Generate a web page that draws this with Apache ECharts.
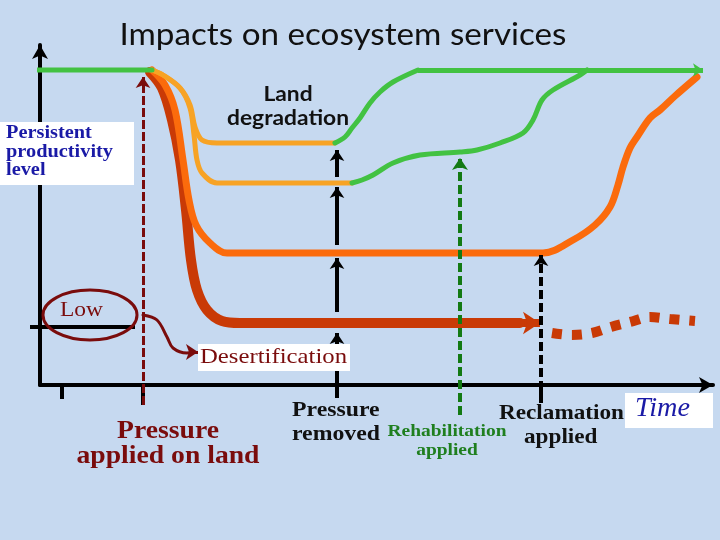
<!DOCTYPE html>
<html><head><meta charset="utf-8">
<script src="https://cdn.jsdelivr.net/npm/echarts@6/dist/echarts.min.js"></script>
<style>html,body{margin:0;padding:0;background:#C6D9F0}#c{width:720px;height:540px}</style>
</head><body><div id="c"></div>
<script>
// Conceptual units: x = time (0..673), y = ecosystem service level (0..340)
const greenStart    = [[-7,315],[112,315]];
const greenFull     = [[378,315],[663,315]];
const lightOrange1  = [[112,315],[123,310],[140,297],[150,280],[155,258],[162,245],[177,242],[295,242]];
const lightOrange2  = [[112,315],[123,310],[140,297],[150,277],[154,250],[157,225],[162,212],[177,202],[312,202]];
const orangeLine    = [[112,315],[125,300],[135,275],[143,225],[149,185],[156,160],[170,142],[187,132],[503,132],
                       [533,145],[555,160],[570,178],[578,200],[583,218],[590,237],[597,248],[610,267],[620,275],[635,289],[657,308]];
const desertLine    = [[110,313],[122,297],[132,265],[140,225],[146,175],[151,125],[157,95],[167,75],[182,64],[200,62],[480,62]];
const desertArrow   = [[470,62],[500,62]];
const desertDotted  = [[512,52],[532,50],[552,52],[571,58],[590,63],[610,68],[630,66],[655,64]];
const greenRecov1   = [[295,242],[305,248],[312,257],[320,267],[330,282],[340,293],[353,303],[378,315]];
const greenRecov2   = [[312,202],[322,205],[333,210],[353,222],[380,230],[420,233],[437,235],[460,242],[483,252],[493,265],[502,285],[513,295],[540,310],[547,315]];
const pressureApplied   = [[103,-20],[103,308]];
const pressureRemoved   = [[[297,0],[297,52]],[[297,73],[297,127]],[[297,140],[297,198]],[[297,208],[297,235]]];
const rehabArrow        = [[420,-30],[420,227]];
const reclamArrow       = [[501,-18],[501,130]];
const xTicks            = [[[22,0],[22,-14]],[[103,0],[103,-20]],[[297,0],[297,-13]],[[501,0],[501,-18]]];
const lowTick           = [[-10,58],[95,58]];
const lowEllipse        = [[50,70]];
const lowRadii          = [47,25];
const wiggle            = [[103,70],[117,65],[127,48],[133,37],[147,32],[152,33]];
const wiggleArrow       = [[150,33],[158,33]];

const C = {
  green:'#42C242', lightOrange:'#F7A325', orange:'#FB6B0C', desert:'#C93A06',
  darkRed:'#7A0C0C', darkGreen:'#137A13', blue:'#1A1AA6'
};

function line(data, color, width, z, extra){
  return Object.assign({type:'line', data, symbol:'none', smooth:0.35, clip:false, z:z||3,
    lineStyle:{color, width, cap:'round', join:'round'}, silent:true, animation:false}, extra||{});
}
function arrows(segs, color, width, dash, size, z, noArrow){
  return {type:'lines', coordinateSystem:'cartesian2d', clip:false, z:z||4, animation:false, silent:true,
    symbol: noArrow ? ['none','none'] : ['none','arrow'], symbolSize: size||10,
    lineStyle:{color, width, type: dash||'solid', opacity:1, cap:'butt'},
    data: segs.map(s=>({coords:s}))};
}

const series = [
  arrows(xTicks, '#000', 4, 'solid', 0, 2, true),
  arrows([lowTick], '#000', 4, 'solid', 0, 2, true),
  line(desertLine, C.desert, 10, 3),
  arrows([desertArrow], C.desert, 8, 'solid', 17, 3),
  line(desertDotted, C.desert, 10, 3, {lineStyle:{color:C.desert, width:10, type:[10,10], cap:'butt'}}),
  line(orangeLine, C.orange, 7, 4),
  line(lightOrange2, C.lightOrange, 5, 5),
  line(lightOrange1, C.lightOrange, 5, 5),
  line(greenRecov1, C.green, 5, 6),
  line(greenRecov2, C.green, 5, 6),
  line(greenStart, C.green, 5, 7, {smooth:false}),
  arrows([greenFull], C.green, 5, 'solid', 10, 7),
  arrows([pressureApplied], C.darkRed, 3, [9,3], 11, 8),
  arrows(pressureRemoved, '#000', 4, 'solid', 11, 8),
  arrows([rehabArrow], C.darkGreen, 4, [9,4], 12, 8),
  arrows([reclamArrow], '#000', 4, [9,4], 11, 8),
  line(wiggle, C.darkRed, 3, 9),
  arrows([wiggleArrow], C.darkRed, 3, 'solid', 12, 9),
  {type:'custom', coordinateSystem:'cartesian2d', data: lowEllipse, z:9, clip:false, silent:true, animation:false,
   renderItem:function(params, api){
     const c = api.coord([api.value(0), api.value(1)]);
     const s = api.size(lowRadii);
     return {type:'ellipse', shape:{cx:c[0], cy:c[1], rx:s[0], ry:s[1]},
       style:{fill:'none', stroke:C.darkRed, lineWidth:3}};
   }}
];

const mctx = document.createElement('canvas').getContext('2d');
function fit(font, text, target){ mctx.font = font; return target / mctx.measureText(text).width; }
function txt(text, x, y, font, fill, align, sx){
  return {type:'text', z:100, x, y, scaleX: sx||1, scaleY:1,
    style:{text, x:0, y:0, font, fill, align:align||'left', verticalAlign:'middle'}};
}
function box(x, y, w, h){
  return {type:'rect', z:99, shape:{x, y, width:w, height:h}, style:{fill:'#fff'}};
}
const serif = '"Liberation Serif", serif';
const fTitle = '31px Lato, sans-serif';
const fLand = 'bold 21px Lato, sans-serif';
const fPers = 'bold 18px ' + serif;
const fLow = '21px ' + serif;
const fDes = '21px ' + serif;
const fPA = 'bold 25px ' + serif;
const fPR = 'bold 21px ' + serif;
const fRh = 'bold 16px ' + serif;
const fRc = 'bold 22px ' + serif;
const fT = 'italic 28px ' + serif;
const sTitle = fit(fTitle, 'Impacts on ecosystem services', 447);
const sLand = fit(fLand, 'degradation', 122);
const sPers = fit(fPers, 'productivity', 107);
const sLow = fit(fLow, 'Low', 43);
const sDes = fit(fDes, 'Desertification', 147);
const sPA = fit(fPA, 'applied on land', 183);
const sPR = fit(fPR, 'removed', 88);
const sRh = fit(fRh, 'Rehabilitation', 119);
const sRc = fit(fRc, 'Reclamation', 125);
const sT = fit(fT, 'Time', 55);

const graphic = [
  txt('Impacts on ecosystem services', 343, 35, fTitle, '#111', 'center', sTitle),
  txt('Land', 288, 94, fLand, '#111', 'center', sLand),
  txt('degradation', 288, 118, fLand, '#111', 'center', sLand),
  box(0, 122, 134, 63),
  txt('Persistent', 6, 133, fPers, C.blue, 'left', sPers),
  txt('productivity', 6, 152, fPers, C.blue, 'left', sPers),
  txt('level', 6, 170, fPers, C.blue, 'left', sPers),
  txt('Low', 60, 310, fLow, C.darkRed, 'left', sLow),
  box(198, 344, 152, 27),
  txt('Desertification', 200, 357, fDes, C.darkRed, 'left', sDes),
  txt('Pressure', 168, 432, fPA, C.darkRed, 'center', sPA),
  txt('applied on land', 168, 457, fPA, C.darkRed, 'center', sPA),
  txt('Pressure', 292, 411, fPR, '#111', 'left', sPR),
  txt('removed', 292, 435, fPR, '#111', 'left', sPR),
  txt('Rehabilitation', 447, 432, fRh, '#1F7F1F', 'center', sRh),
  txt('applied', 447, 451, fRh, '#1F7F1F', 'center', sRh),
  txt('Reclamation', 499, 413, fRc, '#111', 'left', sRc),
  txt('applied', 524, 437, fRc, '#111', 'left', sRc),
  box(625, 393, 88, 35),
  txt('Time', 635, 409, fT, C.blue, 'left', sT)
];

const axisCommon = {type:'value', axisTick:{show:false}, axisLabel:{show:false}, splitLine:{show:false},
  axisLine:{show:true, symbol:['none','arrow'], symbolSize:[12,14], lineStyle:{color:'#000', width:4}}};

const chart = echarts.init(document.getElementById('c'), null, {renderer:'canvas'});
chart.setOption({
  backgroundColor:'#C6D9F0',
  animation:false,
  grid:{left:40, right:7, top:45, bottom:155},
  xAxis: Object.assign({min:0, max:673}, axisCommon),
  yAxis: Object.assign({min:0, max:340}, axisCommon),
  series,
  graphic
});
</script></body></html>
